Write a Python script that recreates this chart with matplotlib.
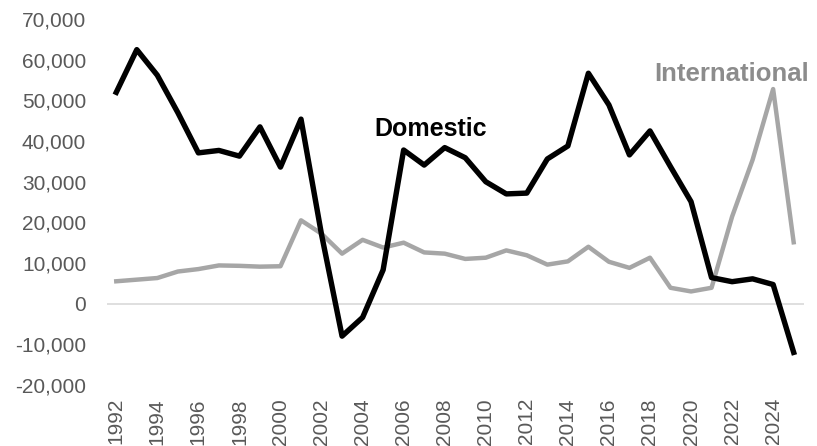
import numpy as np
import matplotlib
matplotlib.use("Agg")
import matplotlib.pyplot as plt
from matplotlib.ticker import FuncFormatter

plt.rcParams["font.family"] = ["Liberation Sans", "DejaVu Sans"]

years = list(range(1992, 2026))
domestic = [52000, 62500, 56200, 47000, 37100, 37700, 36300, 43500, 33600, 45400,
            17000, -8000, -3400, 8300, 37800, 34100, 38400, 35900, 30000, 27000,
            27200, 35600, 38800, 56700, 48900, 36600, 42500, 33700, 25100, 6400,
            5400, 6100, 4700, -12000]
international = [5500, 5900, 6300, 7900, 8500, 9400, 9300, 9100, 9200, 20500,
                 17200, 12300, 15700, 13800, 15000, 12600, 12300, 11000, 11300, 13100,
                 11900, 9600, 10400, 14000, 10300, 8800, 11300, 3900, 3000, 3900,
                 21400, 35400, 52800, 15100]
xtick_years = list(range(1992, 2025, 2))

fig = plt.figure(figsize=(8.17, 4.46), dpi=100)
ax = fig.add_axes([0.131, 0.137, 0.853, 0.820])

ax.axhline(0, color="#d9d9d9", lw=1.2, zorder=1)
ax.plot(years, international, color="#a6a6a6", lw=3.2, zorder=2)
ax.plot(years, domestic, color="#000000", lw=3.9, zorder=3)

ax.set_xlim(1991.55, 2025.5)
ax.set_ylim(-20000, 70000)
ax.set_yticks(np.arange(-20000, 70001, 10000))
ax.yaxis.set_major_formatter(FuncFormatter(lambda v, p: f"{int(v):,}"))
ax.set_xticks(xtick_years)
ax.set_xticklabels([str(y) for y in xtick_years], rotation=90, va="top")

for s in ax.spines.values():
    s.set_visible(False)
ax.tick_params(axis="both", length=0, colors="#595959", labelsize=15)
ax.tick_params(axis="x", pad=9.5)
ax.tick_params(axis="y", pad=15)

ax.text(2007.3, 43000, "Domestic", color="#000000", fontsize=18, fontweight="bold",
        ha="center", va="center")
ax.text(2022.0, 56500, "International", color="#8c8c8c", fontsize=18.5, fontweight="bold",
        ha="center", va="center")

fig.savefig("out.png", dpi=100)
